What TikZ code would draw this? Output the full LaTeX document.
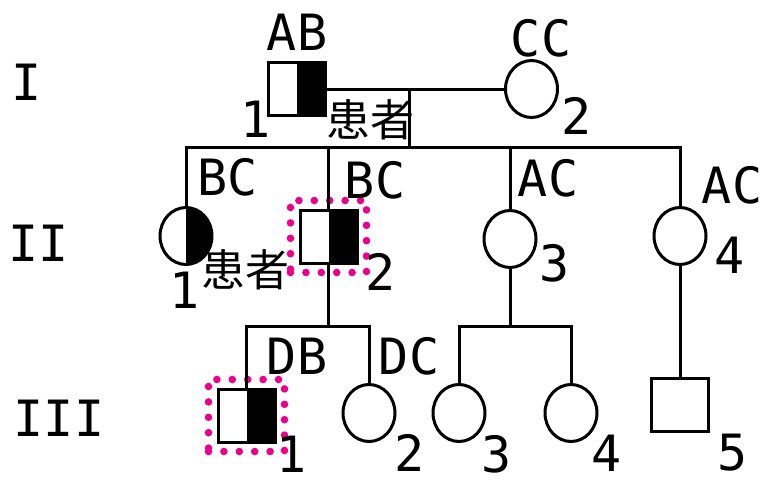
\documentclass[tikz,border=0pt]{standalone}
\usepackage{fontspec}
\newfontfamily\lblfont{DejaVu Sans Mono}
\newfontfamily\zhfont{Noto Sans CJK SC}
\usetikzlibrary{shapes.geometric,fit}
\tikzset{
  link/.style={line width=1.5pt},
  male/.style={draw, line width=1.5pt, minimum width=28.5pt, minimum height=26.5pt, inner sep=0pt},
  female/.style={male, shape=ellipse, minimum width=26pt, minimum height=28.5pt},
  affected/.style={path picture={\fill (path picture bounding box.north) rectangle (path picture bounding box.south east);}},
  lbl/.style={inner sep=0pt, font=\lblfont\fontsize{25}{25}\selectfont},
  zh/.style={inner sep=0pt, font=\zhfont\fontsize{22}{22}\selectfont},
  hilite/.style={draw=magenta, line width=3.8pt, dash pattern=on 0pt off 7.7pt, line cap=round, inner sep=4pt},
}

\begin{document}
\begin{tikzpicture}[x=0.5pt, y=-0.5pt]
\useasboundingbox (0,0) rectangle (766,482);

% generations
\node[lbl] (gI) at (27,82) {I};
\node[lbl] (gII) at (39,243) {II};
\node[lbl] (gIII) at (59,418) {III};

% generation I
\node[male, affected] (I1) at (296.5,89) {};
\node[female] (I2) at (531.5,89) {};
\node[lbl] (I1g) at (297,32) {AB};
\node[lbl] (I1n) at (256,119) {1};
\node[zh] (I1p) at (370,120) {患者};
\node[lbl] (I2g) at (541,38) {CC};
\node[lbl] (I2n) at (577,116) {2};

\coordinate (m1) at (409,89);
\coordinate (s1) at (409,147);
\draw[link] (I1) -- (I2);
\draw[link] (m1) -- (s1);

% generation II
\node[female, affected] (II1) at (186,236) {};
\node[male, affected] (II2) at (328.5,236.5) {};
\node[female] (II3) at (510,239) {};
\node[female] (II4) at (680,236) {};
\node[hilite, fit=(II2)] (box2) {};

\node[lbl] (II1g) at (228,177) {BC};
\node[lbl] (II1n) at (185,290) {1};
\node[zh] (II1p) at (245,270) {患者};
\node[lbl] (II2g) at (375,180) {BC};
\node[lbl] (II2n) at (381,272) {2};
\node[lbl] (II3g) at (548,178) {AC};
\node[lbl] (II3n) at (555,263) {3};
\node[lbl] (II4g) at (732,185) {AC};
\node[lbl] (II4n) at (730,255) {4};

\draw[link] (II1.north) |- (s1) -| (II4.north);
\draw[link] (II2.north) -- (II2.north |- s1);
\draw[link] (II3.north) -- (II3.north |- s1);

% generation III
\node[male, affected] (III1) at (246.5,415.5) {};
\node[female] (III2) at (369,413) {};
\node[female] (III3) at (459,413) {};
\node[female] (III4) at (571,413) {};
\node[male] (III5) at (680,404.5) {};
\node[hilite, fit=(III1)] (box3) {};

\node[lbl] (III1g) at (297,356) {DB};
\node[lbl] (III1n) at (292,454) {1};
\node[lbl] (III2g) at (409,356) {DC};
\node[lbl] (III2n) at (410,453) {2};
\node[lbl] (III3n) at (497,454) {3};
\node[lbl] (III4n) at (607,453) {4};
\node[lbl] (III5n) at (733,453) {5};

\coordinate (s2) at (328.5,326);
\coordinate (s3) at (510,326);
\draw[link] (II2.south) -- (s2);
\draw[link] (III1.north) |- (s2) -| (III2.north);
\draw[link] (II3.south) -- (s3);
\draw[link] (III3.north) |- (s3) -| (III4.north);
\draw[link] (II4.south) -- (III5.north);

\end{tikzpicture}
\end{document}
